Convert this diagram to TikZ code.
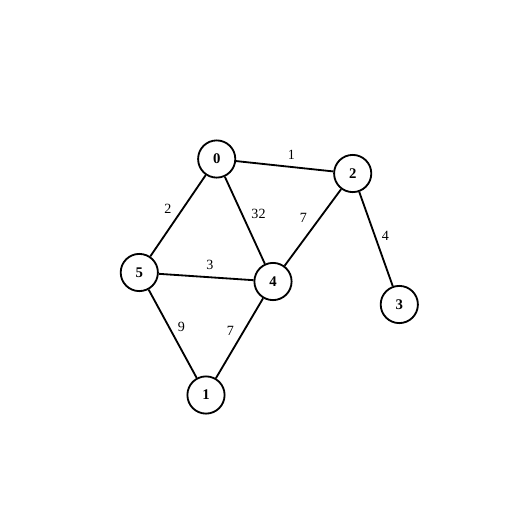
\documentclass[tikz,border=0pt]{standalone}
\usepackage{fontspec}
\setmainfont{Liberation Serif}
\tikzset{
  vtx/.style={circle, draw, line width=1.3pt, minimum size=0.93cm, inner sep=0pt, font=\fontsize{10.5}{12}\selectfont\bfseries},
  lbl/.style={font=\fontsize{10}{12}\selectfont, inner sep=1pt},
  edg/.style={line width=1.3pt}
}
\begin{document}
\begin{tikzpicture}[x=0.025cm, y=-0.025cm]
\useasboundingbox (0,0) rectangle (528,528);

\node [vtx] (n0) at (216.7,159) {0};
\node [vtx] (n2) at (352.7,173.5) {2};
\node [vtx] (n5) at (139.3,272.5) {5};
\node [vtx] (n4) at (273,281.5) {4};
\node [vtx] (n3) at (399.3,304.5) {3};
\node [vtx] (n1) at (206,395) {1};

\draw [edg] (n0)--(n2);
\draw [edg] (n0)--(n5);
\draw [edg] (n0)--(n4);
\draw [edg] (n2)--(n4);
\draw [edg] (n2)--(n3);
\draw [edg] (n5)--(n4);
\draw [edg] (n5)--(n1);
\draw [edg] (n4)--(n1);

\node [lbl] (w02) at (291.5,154.5) {1};
\node [lbl] (w05) at (168,208.5) {2};
\node [lbl] (w04) at (258.5,214) {32};
\node [lbl] (w24) at (303.5,218) {7};
\node [lbl] (w23) at (385.5,236) {4};
\node [lbl] (w54) at (210,265) {3};
\node [lbl] (w51) at (181.5,327) {9};
\node [lbl] (w41) at (230.5,330.5) {7};

\end{tikzpicture}
\end{document}
